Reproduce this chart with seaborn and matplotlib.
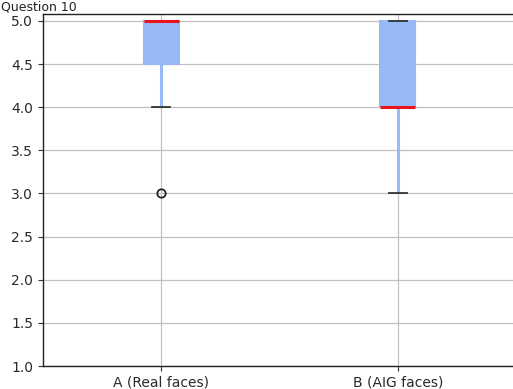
import matplotlib
matplotlib.use("Agg")
import matplotlib.pyplot as plt
import seaborn as sns
import pandas as pd

# Ratings for question 10
categories = ["A (Real faces)", "B (AIG faces)"]
real_faces = [3, 4, 5, 5, 5, 5, 5]
aig_faces = [3, 4, 4, 4, 5, 5, 5]
y_ticks = [1.0, 1.5, 2.0, 2.5, 3.0, 3.5, 4.0, 4.5, 5.0]
title = "Question 10"

df = pd.DataFrame({
    "group": [categories[0]] * len(real_faces) + [categories[1]] * len(aig_faces),
    "score": real_faces + aig_faces,
})

box_blue = "#97b9f8"

fig = plt.figure(figsize=(5.13, 3.89), dpi=100)
ax = fig.add_axes([43 / 513, 1 - 366 / 389, (516 - 43) / 513, (366 - 14) / 389])

sns.boxplot(
    data=df, x="group", y="score", order=categories, ax=ax,
    width=0.15, whis=1.5,
    boxprops=dict(facecolor=box_blue, edgecolor=box_blue, linewidth=1.5),
    medianprops=dict(color="#e8141c", linewidth=2.2),
    whiskerprops=dict(color=box_blue, linewidth=2.2),
    capprops=dict(color="#333333", linewidth=1.3),
    flierprops=dict(marker="o", markerfacecolor="none", markeredgecolor="#222222",
                    markersize=6, markeredgewidth=1.3),
    capwidths=0.075,
)

ax.set_xlim(-0.5, 1.5)
ax.set_ylim(1.0, 5.08)
ax.set_yticks(y_ticks)
ax.set_yticklabels([f"{t:.1f}" for t in y_ticks])
ax.set_xlabel("")
ax.set_ylabel("")
ax.grid(True, color="#c0c0c0", linewidth=0.9)
ax.set_axisbelow(True)
for s in ["left", "bottom", "top", "right"]:
    ax.spines[s].set_color("#222222")
    ax.spines[s].set_linewidth(1.0)
ax.tick_params(colors="#333333", labelsize=10)
for lbl in ax.get_xticklabels() + ax.get_yticklabels():
    lbl.set_color("#2a2a2a")

fig.text(1 / 513, 1 - 11 / 389, title, fontsize=9, ha="left", va="baseline", color="#222222")

fig.savefig("out.png", dpi=100)
